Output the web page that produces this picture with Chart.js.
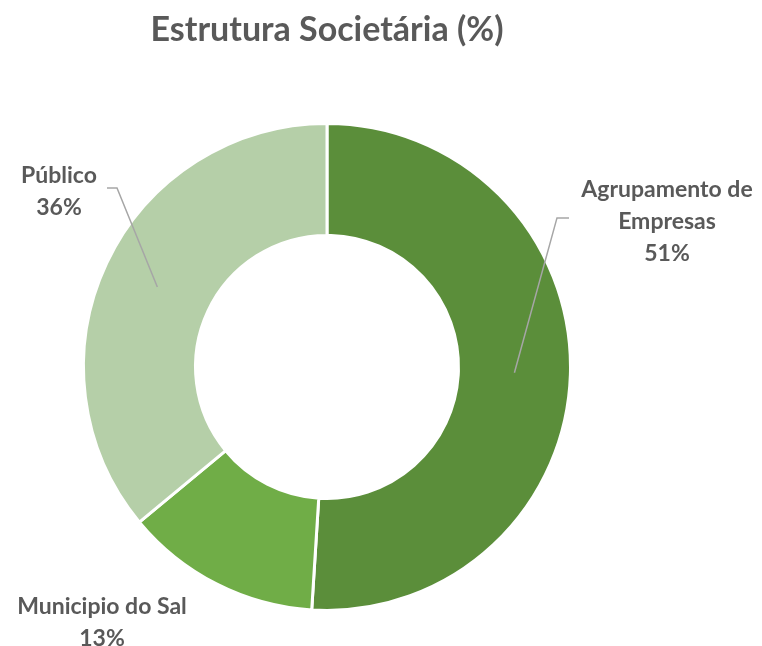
<!DOCTYPE html>
<html>
<head>
<meta charset="utf-8">
<script src="https://cdn.jsdelivr.net/npm/chart.js"></script>
<style>
html,body{margin:0;padding:0;background:#fff;}
#wrap{width:762px;height:646px;}
</style>
</head>
<body>
<div id="wrap"><canvas id="c" width="762" height="646"></canvas></div>
<script>
const titleText = 'Estrutura Societária (%)';
const categories = ['Agrupamento de Empresas', 'Municipio do Sal', 'Público'];
const labelLines = [['Agrupamento de', 'Empresas'], ['Municipio do Sal'], ['Público']];
const values = [51, 13, 36];
const colors = ['#5B8E3A', '#70AD47', '#B5CFA8'];

// label placement relative to the doughnut centre (dx, dy of text centre, leader elbow)
const labelPlacement = [
  {dx: 340, dy: -177, leader: [[242, -149], [230, -149]]},
  {dx: -225, dy: 240, leader: null},
  {dx: -268, dy: -191, leader: [[-220, -179], [-210, -179]]}
];

const FONT = 'Lato, "Open Sans", sans-serif';
const TEXT = '#595959';

const labelPlugin = {
  id: 'outLabels',
  afterDatasetsDraw(chart) {
    const ctx = chart.ctx;
    const meta = chart.getDatasetMeta(0);
    const total = values.reduce((a, b) => a + b, 0);
    ctx.save();
    meta.data.forEach((arc, i) => {
      const {x, y, innerRadius, outerRadius, startAngle, endAngle} = arc.getProps(['x','y','innerRadius','outerRadius','startAngle','endAngle'], true);
      const mid = (startAngle + endAngle) / 2;
      const rm = (innerRadius + outerRadius) / 2;
      const p = labelPlacement[i];
      if (p.leader) {
        ctx.strokeStyle = '#A6A6A6';
        ctx.lineWidth = 1.5;
        ctx.beginPath();
        ctx.moveTo(x + p.leader[0][0], y + p.leader[0][1]);
        ctx.lineTo(x + p.leader[1][0], y + p.leader[1][1]);
        ctx.lineTo(x + Math.cos(mid) * rm, y + Math.sin(mid) * rm);
        ctx.stroke();
      }
      const lines = labelLines[i].concat([Math.round(values[i] / total * 100) + '%']);
      ctx.fillStyle = TEXT;
      ctx.font = 'bold 23px ' + FONT;
      ctx.textAlign = 'center';
      ctx.textBaseline = 'middle';
      lines.forEach((t, k) => {
        ctx.fillText(t, x + p.dx, y + p.dy + k * 32);
      });
    });
    ctx.restore();
  }
};

new Chart(document.getElementById('c'), {
  type: 'doughnut',
  data: {
    labels: categories,
    datasets: [{
      data: values,
      backgroundColor: colors,
      borderColor: '#ffffff',
      borderWidth: 3,
      hoverOffset: 0
    }]
  },
  options: {
    responsive: false,
    animation: false,
    cutout: '54%',
    layout: {padding: {left: 82, right: 190, top: 0, bottom: 34}},
    plugins: {
      legend: {display: false},
      tooltip: {enabled: false},
      title: {
        display: true,
        text: titleText,
        color: TEXT,
        font: {family: FONT, size: 34, weight: 'bold', lineHeight: 1.2},
        padding: {top: 10, bottom: 71}
      }
    }
  },
  plugins: [labelPlugin]
});
</script>
</body>
</html>
